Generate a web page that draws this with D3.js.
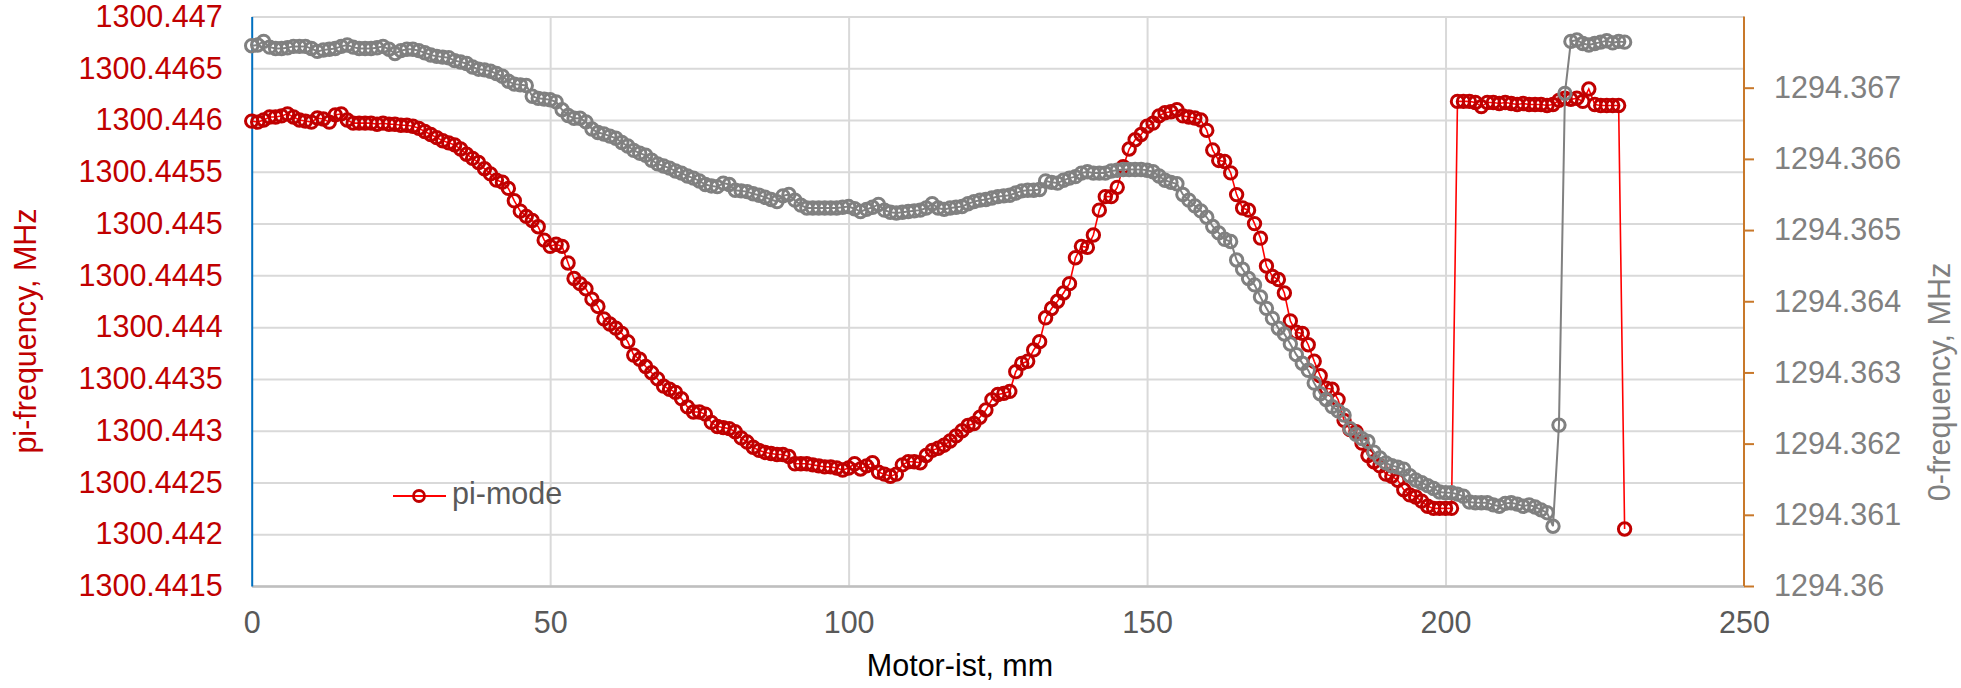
<!DOCTYPE html>
<html>
<head>
<meta charset="utf-8">
<script src="https://cdn.jsdelivr.net/npm/d3@7"></script>
<style>
  html, body { margin: 0; padding: 0; background: #ffffff; }
  svg { display: block; }
  text { font-family: "Liberation Sans", Arial, sans-serif; }
</style>
</head>
<body>
<svg id="chart" width="1961" height="688"></svg>
<script>
// ---------------- DATA ----------------
const motorIst = [
  0,1,2,3,4,5,6,7,8,9,10,11,12,13,14,15,16,17,18,19,
  20,21,22,23,24,25,26,27,28,29,30,31,32,33,34,35,36,37,38,39,
  40,41,42,43,44,45,46,47,48,49,50,51,52,53,54,55,56,57,58,59,
  60,61,62,63,64,65,66,67,68,69,70,71,72,73,74,75,76,77,78,79,
  80,81,82,83,84,85,86,87,88,89,90,91,92,93,94,95,96,97,98,99,
  100,101,102,103,104,105,106,107,108,109,110,111,112,113,114,115,116,117,118,119,
  120,121,122,123,124,125,126,127,128,129,130,131,132,133,134,135,136,137,138,139,
  140,141,142,143,144,145,146,147,148,149,150,151,152,153,154,155,156,157,158,159,
  160,161,162,163,164,165,166,167,168,169,170,171,172,173,174,175,176,177,178,179,
  180,181,182,183,184,185,186,187,188,189,190,191,192,193,194,195,196,197,198,199,
  200,201,202,203,204,205,206,207,208,209,210,211,212,213,214,215,216,217,218,219,
  220,221,222,223,224,225,226,227,228,229,230
];

const piFrequency = [
  1300.44599,1300.44598,1300.44600,1300.44603,1300.44603,1300.44604,1300.44606,1300.44603,1300.44600,1300.44599,
  1300.44598,1300.44602,1300.44601,1300.44598,1300.44605,1300.44606,1300.44600,1300.44597,1300.44597,1300.44597,
  1300.44597,1300.44596,1300.44597,1300.44596,1300.44596,1300.44595,1300.44595,1300.44594,1300.44592,1300.44589,
  1300.44586,1300.44583,1300.44580,1300.44578,1300.44576,1300.44572,1300.44567,1300.44563,1300.44559,1300.44553,
  1300.44548,1300.44542,1300.44540,1300.44534,1300.44522,1300.44512,1300.44507,1300.44503,1300.44497,1300.44484,
  1300.44478,1300.44480,1300.44478,1300.44462,1300.44447,1300.44442,1300.44437,1300.44427,1300.44420,1300.44408,
  1300.44403,1300.44399,1300.44394,1300.44386,1300.44373,1300.44369,1300.44362,1300.44356,1300.44350,1300.44343,
  1300.44340,1300.44337,1300.44331,1300.44323,1300.44318,1300.44318,1300.44316,1300.44308,1300.44304,1300.44303,
  1300.44302,1300.44299,1300.44293,1300.44289,1300.44284,1300.44281,1300.44279,1300.44278,1300.44277,1300.44277,
  1300.44275,1300.44268,1300.44268,1300.44268,1300.44267,1300.44266,1300.44265,1300.44265,1300.44264,1300.44262,
  1300.44264,1300.44268,1300.44263,1300.44266,1300.44269,1300.44260,1300.44258,1300.44256,1300.44258,1300.44267,
  1300.44270,1300.44270,1300.44269,1300.44276,1300.44281,1300.44283,1300.44286,1300.44290,1300.44295,1300.44300,
  1300.44305,1300.44307,1300.44313,1300.44320,1300.44330,1300.44335,1300.44336,1300.44338,1300.44357,1300.44365,
  1300.44367,1300.44378,1300.44386,1300.44409,1300.44418,1300.44425,1300.44433,1300.44442,1300.44467,1300.44478,
  1300.44477,1300.44489,1300.44513,1300.44526,1300.44526,1300.44535,1300.44555,1300.44572,1300.44581,1300.44586,
  1300.44594,1300.44597,1300.44604,1300.44607,1300.44608,1300.44610,1300.44604,1300.44603,1300.44602,1300.44600,
  1300.44590,1300.44571,1300.44561,1300.44560,1300.44549,1300.44528,1300.44515,1300.44513,1300.44500,1300.44486,
  1300.44459,1300.44449,1300.44446,1300.44433,1300.44406,1300.44395,1300.44394,1300.44383,1300.44367,1300.44353,
  1300.44341,1300.44340,1300.44330,1300.44310,1300.44301,1300.44299,1300.44288,1300.44276,1300.44270,1300.44266,
  1300.44258,1300.44256,1300.44252,1300.44243,1300.44238,1300.44236,1300.44232,1300.44227,1300.44225,1300.44225,
  1300.44225,1300.44225,1300.44618,1300.44618,1300.44618,1300.44617,1300.44613,1300.44617,1300.44617,1300.44616,
  1300.44617,1300.44616,1300.44615,1300.44616,1300.44615,1300.44615,1300.44615,1300.44614,1300.44615,1300.44619,
  1300.44621,1300.44620,1300.44621,1300.44618,1300.44630,1300.44615,1300.44614,1300.44614,1300.44614,1300.44614,
  1300.44205
];

const zeroFrequency = [
  1294.36759,1294.36760,1294.36765,1294.36757,1294.36755,1294.36755,1294.36756,1294.36758,1294.36758,1294.36758,
  1294.36755,1294.36751,1294.36753,1294.36754,1294.36755,1294.36758,1294.36760,1294.36757,1294.36755,1294.36755,
  1294.36755,1294.36756,1294.36758,1294.36754,1294.36748,1294.36752,1294.36754,1294.36754,1294.36752,1294.36749,
  1294.36746,1294.36744,1294.36743,1294.36742,1294.36738,1294.36736,1294.36734,1294.36729,1294.36726,1294.36725,
  1294.36723,1294.36720,1294.36716,1294.36709,1294.36705,1294.36704,1294.36703,1294.36688,1294.36685,1294.36684,
  1294.36683,1294.36680,1294.36669,1294.36661,1294.36657,1294.36657,1294.36652,1294.36642,1294.36637,1294.36635,
  1294.36632,1294.36629,1294.36623,1294.36618,1294.36612,1294.36608,1294.36605,1294.36598,1294.36593,1294.36590,
  1294.36587,1294.36583,1294.36580,1294.36576,1294.36573,1294.36569,1294.36564,1294.36562,1294.36561,1294.36566,
  1294.36564,1294.36556,1294.36555,1294.36554,1294.36551,1294.36549,1294.36546,1294.36543,1294.36540,1294.36548,
  1294.36550,1294.36542,1294.36535,1294.36531,1294.36531,1294.36531,1294.36531,1294.36531,1294.36531,1294.36532,
  1294.36533,1294.36530,1294.36526,1294.36529,1294.36532,1294.36536,1294.36528,1294.36525,1294.36524,1294.36525,
  1294.36526,1294.36527,1294.36528,1294.36531,1294.36537,1294.36531,1294.36529,1294.36531,1294.36532,1294.36533,
  1294.36537,1294.36540,1294.36542,1294.36543,1294.36545,1294.36547,1294.36548,1294.36549,1294.36552,1294.36555,
  1294.36556,1294.36556,1294.36557,1294.36569,1294.36567,1294.36566,1294.36570,1294.36573,1294.36575,1294.36580,
  1294.36582,1294.36580,1294.36580,1294.36580,1294.36583,1294.36584,1294.36585,1294.36585,1294.36585,1294.36585,
  1294.36584,1294.36582,1294.36576,1294.36570,1294.36567,1294.36565,1294.36550,1294.36542,1294.36534,1294.36527,
  1294.36518,1294.36505,1294.36496,1294.36487,1294.36484,1294.36458,1294.36445,1294.36432,1294.36423,1294.36406,
  1294.36390,1294.36376,1294.36362,1294.36354,1294.36340,1294.36325,1294.36313,1294.36303,1294.36285,1294.36270,
  1294.36262,1294.36252,1294.36246,1294.36240,1294.36221,1294.36213,1294.36207,1294.36203,1294.36188,1294.36180,
  1294.36173,1294.36169,1294.36167,1294.36164,1294.36155,1294.36149,1294.36145,1294.36141,1294.36137,1294.36132,
  1294.36131,1294.36131,1294.36129,1294.36126,1294.36118,1294.36117,1294.36117,1294.36117,1294.36114,1294.36112,
  1294.36116,1294.36117,1294.36115,1294.36112,1294.36114,1294.36111,1294.36107,1294.36103,1294.36084,1294.36226,
  1294.36692,1294.36765,1294.36767,1294.36762,1294.36760,1294.36762,1294.36764,1294.36766,1294.36763,1294.36765,
  1294.36764
];

const xTicks = [0, 50, 100, 150, 200, 250];
const leftTicks = [1300.4415, 1300.442, 1300.4425, 1300.443, 1300.4435, 1300.444,
                   1300.4445, 1300.445, 1300.4455, 1300.446, 1300.4465, 1300.447];
const rightTicks = [1294.36, 1294.361, 1294.362, 1294.363, 1294.364, 1294.365, 1294.366, 1294.367];

const xTitle = "Motor-ist, mm";
const leftTitle = "pi-frequency, MHz";
const rightTitle = "0-frequency, MHz";
const legendLabel = "pi-mode";

// ---------------- LAYOUT ----------------
const W = 1961, H = 688;
const plot = { left: 251.7, right: 1744, top: 16.5, bottom: 586 };
const FONT = 30.5;

const svg = d3.select("#chart");

const x = d3.scaleLinear().domain([0, 250]).range([plot.left, plot.right]);
const yL = d3.scaleLinear().domain([1300.4415, 1300.447]).range([plot.bottom, plot.top]);
const yR = d3.scaleLinear().domain([1294.36, 1294.368]).range([plot.bottom, plot.top]);

// gridlines (horizontal)
const gH = svg.append("g")
  .attr("transform", `translate(${plot.left},0)`)
  .call(d3.axisLeft(yL).tickValues(leftTicks).tickSize(-(plot.right - plot.left)).tickFormat(""));
gH.select(".domain").remove();
gH.selectAll(".tick line").attr("stroke", "#d9d9d9").attr("stroke-width", 2);

// gridlines (vertical)
const gV = svg.append("g")
  .attr("transform", `translate(0,${plot.bottom})`)
  .call(d3.axisBottom(x).tickValues([50, 100, 150, 200]).tickSize(-(plot.bottom - plot.top)).tickFormat(""));
gV.select(".domain").remove();
gV.selectAll(".tick line").attr("stroke", "#d9d9d9").attr("stroke-width", 2);

// bottom axis
const gX = svg.append("g")
  .attr("transform", `translate(0,${plot.bottom})`)
  .call(d3.axisBottom(x).tickValues(xTicks).tickSize(0).tickPadding(37).tickFormat(d => String(d)));
gX.select(".domain").attr("stroke", "#bfbfbf").attr("stroke-width", 2.5);
gX.selectAll(".tick text").attr("fill", "#595959").style("font-size", FONT + "px")
  .style("font-family", "'Liberation Sans', Arial, sans-serif").attr("dy", "0.32em").attr("y", 37);

// left axis
const gL = svg.append("g")
  .attr("transform", `translate(${plot.left},0)`)
  .call(d3.axisLeft(yL).tickValues(leftTicks).tickSize(0).tickPadding(29).tickFormat(d => String(d)));
gL.select(".domain").attr("stroke", "#0070c0").attr("stroke-width", 2);
gL.selectAll(".tick text").attr("fill", "#c00000").style("font-size", FONT + "px")
  .style("font-family", "'Liberation Sans', Arial, sans-serif");

// right axis
const gR = svg.append("g")
  .attr("transform", `translate(${plot.right},0)`)
  .call(d3.axisRight(yR).tickValues(rightTicks).tickSize(10).tickPadding(20).tickFormat(d => String(d)));
gR.select(".domain").attr("stroke", "#c8782a").attr("stroke-width", 2).attr("d", `M0,${plot.top}V${plot.bottom}`);
gR.selectAll(".tick line").attr("stroke", "#c8782a").attr("stroke-width", 2);
gR.selectAll(".tick text").attr("fill", "#808080").style("font-size", FONT + "px")
  .style("font-family", "'Liberation Sans', Arial, sans-serif");

// series
const redData = motorIst.map((m, i) => ({ x: m, y: piFrequency[i] }));
const grayData = motorIst.map((m, i) => ({ x: m, y: zeroFrequency[i] }));

const lineL = d3.line().x(d => x(d.x)).y(d => yL(d.y));
const lineR = d3.line().x(d => x(d.x)).y(d => yR(d.y));

const R = 6.2;

svg.append("path").datum(redData).attr("d", lineL)
  .attr("fill", "none").attr("stroke", "#ff0000").attr("stroke-width", 1.6);
svg.append("g").selectAll("circle").data(redData).join("circle")
  .attr("cx", d => x(d.x)).attr("cy", d => yL(d.y)).attr("r", R)
  .attr("fill", "none").attr("stroke", "#c00000").attr("stroke-width", 3);

svg.append("path").datum(grayData).attr("d", lineR)
  .attr("fill", "none").attr("stroke", "#808080").attr("stroke-width", 2);
svg.append("g").selectAll("circle").data(grayData).join("circle")
  .attr("cx", d => x(d.x)).attr("cy", d => yR(d.y)).attr("r", R)
  .attr("fill", "none").attr("stroke", "#808080").attr("stroke-width", 3);

// axis titles
svg.append("text").attr("x", 960).attr("y", 668).attr("text-anchor", "middle")
  .attr("dominant-baseline", "middle").attr("fill", "#000000").style("font-size", FONT + "px").text(xTitle);

svg.append("text").attr("transform", "translate(28,331) rotate(-90)").attr("text-anchor", "middle")
  .attr("dominant-baseline", "middle").attr("fill", "#c00000").style("font-size", FONT + "px").text(leftTitle);

svg.append("text").attr("transform", "translate(1942,382) rotate(-90)").attr("text-anchor", "middle")
  .attr("dominant-baseline", "middle").attr("fill", "#808080").style("font-size", FONT + "px").text(rightTitle);

// legend
const lg = svg.append("g").attr("transform", "translate(393,496)");
lg.append("line").attr("x1", 0).attr("x2", 53).attr("y1", 0).attr("y2", 0)
  .attr("stroke", "#ff0000").attr("stroke-width", 2);
lg.append("circle").attr("cx", 26).attr("cy", 0).attr("r", 5.5).attr("fill", "none")
  .attr("stroke", "#c00000").attr("stroke-width", 2.8);
lg.append("text").attr("x", 59).attr("y", 0).attr("dominant-baseline", "middle")
  .attr("fill", "#595959").style("font-size", FONT + "px").text(legendLabel);
</script>
</body>
</html>
